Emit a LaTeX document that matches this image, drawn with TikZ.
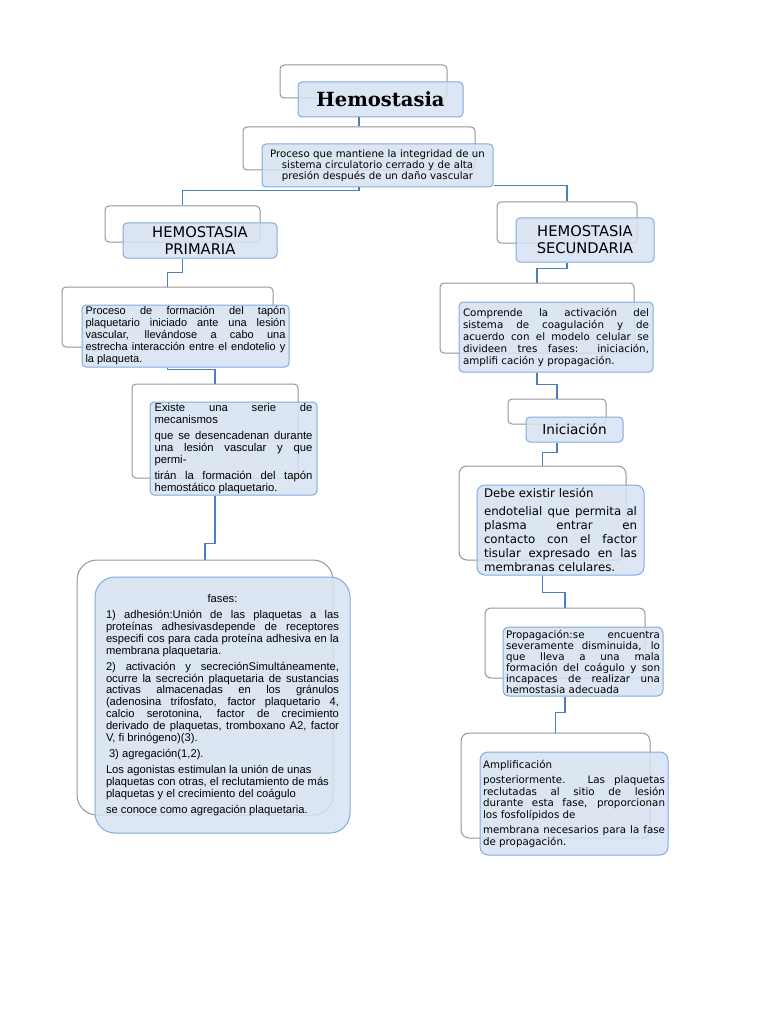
\documentclass[tikz,border=0pt]{standalone}
\usepackage{fontspec}
\setmainfont{Liberation Sans}
\newfontfamily\tahoma{DejaVu Sans}
\newfontfamily\titulo{DejaVu Serif}
\usepackage{xcolor}
\definecolor{celeste}{RGB}{214,226,242}
\definecolor{borde}{RGB}{130,170,222}
\definecolor{azul}{RGB}{74,126,190}
\definecolor{gris}{RGB}{150,150,150}
\newcommand{\tam}[2]{\fontsize{#1}{#2}\selectfont}
\newcommand{\salto}{\par\vspace{4pt}}

\begin{document}
\begin{tikzpicture}[x=1pt,y=-1pt,
	fondo/.style={draw=gris,fill=white,rounded corners=4pt,line width=1pt,inner sep=0pt},
	caja/.style={draw=borde,fill=celeste,fill opacity=0.85,text opacity=1,rounded corners=4pt,line width=1pt,inner sep=0pt,
		execute at begin node={\tolerance=9999\hyphenpenalty=10000}},
	enlace/.style={draw=azul,line width=1.9pt},
	texto/.style={align=justify}]
		\useasboundingbox (0,0) rectangle (768,1024);
		
		% cajas de fondo
		\node[fondo,minimum width=167,minimum height=33] (hemoB) at (363.5,81.5) {};
		\node[fondo,minimum width=232,minimum height=43] (procB) at (359,148.5) {};
		\node[fondo,minimum width=155,minimum height=36] (primB) at (182.5,224) {};
		\node[fondo,minimum width=140,minimum height=41] (secB) at (567,222.5) {};
		\node[fondo,minimum width=211,minimum height=60] (dprimB) at (167.5,317) {};
		\node[fondo,minimum width=194,minimum height=70] (dsecB) at (537,318) {};
		\node[fondo,minimum width=166,minimum height=94] (mecB) at (215,431) {};
		\node[fondo,minimum width=256,minimum height=255,rounded corners=20pt] (fasB) at (205,687.5) {};
		\node[fondo,minimum width=98,minimum height=25] (inicB) at (557,411.5) {};
		\node[fondo,minimum width=167,minimum height=94,rounded corners=8pt] (debeB) at (542.5,513) {};
		\node[fondo,minimum width=160,minimum height=70,rounded corners=6pt] (propB) at (565,643) {};
		\node[fondo,minimum width=189,minimum height=105,rounded corners=8pt] (amplB) at (555.5,785.5) {};
		
		% cajas
		\node[caja,minimum width=165,minimum height=35,font=\titulo\bfseries\tam{19.5}{22}] (hemo) at (380.5,99.5) {Hemostasia};
		\node[caja,minimum width=231,minimum height=43,text width=222,align=center,font=\tahoma\tam{10.2}{10.7}] (proc) at (377.5,165.5)
			{Proceso que mantiene la integridad de un\\ sistema circulatorio cerrado y de alta\\ presión después de un daño vascular};
		\node[caja,minimum width=154,minimum height=35,align=center,font=\tahoma\tam{14.7}{17}] (prim) at (200,240.5) {HEMOSTASIA\\ PRIMARIA};
		\node[caja,minimum width=138,minimum height=44,align=center,font=\tahoma\tam{14.7}{17}] (sec) at (585,240) {HEMOSTASIA\\ SECUNDARIA};
		\node[caja,texto,minimum width=207,minimum height=62,text width=200,font=\tam{11}{12}] (dprim) at (185.5,336)
			{Proceso de formación del tapón\linebreak plaquetario iniciado ante una lesión\linebreak vascular, llevándose a cabo una\linebreak estrecha interacción entre el endotelio y\linebreak la plaqueta.};
		\node[caja,texto,minimum width=194,minimum height=70,text width=186,font=\tahoma\tam{10.3}{12}] (dsec) at (556,337)
			{Comprende la activación del\linebreak sistema de coagulación y de\linebreak acuerdo con el modelo celular se\linebreak divideen tres fases: iniciación,\linebreak amplifi cación y propagación.};
		\node[caja,texto,minimum width=167,minimum height=93,text width=158,font=\tam{11.3}{12}] (mec) at (233.5,448.5)
			{Existe una serie de\linebreak mecanismos\salto que se desencadenan durante\linebreak una lesión vascular y que\linebreak permi-\salto tirán la formación del tapón\linebreak hemostático plaquetario.};
		\node[caja,texto,minimum width=255,minimum height=256,text width=233,rounded corners=20pt,font=\tam{11.2}{11.9}] (fas) at (222.5,705)
			{{\centering fases:\par}\vspace{4pt}
			1) adhesión:Unión de las plaquetas a las\linebreak proteínas adhesivasdepende de receptores\linebreak especifi cos para cada proteína adhesiva en la\linebreak membrana plaquetaria.\salto
			2) activación y secreciónSimultáneamente,\linebreak ocurre la secreción plaquetaria de sustancias\linebreak activas almacenadas en los gránulos\linebreak (adenosina trifosfato, factor plaquetario 4,\linebreak calcio serotonina, factor de crecimiento\linebreak derivado de plaquetas, tromboxano A2, factor\linebreak V, fi brinógeno)(3).\salto
			\hspace*{3pt}3) agregación(1,2).\salto
			Los agonistas estimulan la unión de unas\newline plaquetas con otras, el reclutamiento de más\newline plaquetas y el crecimiento del coágulo\salto
			se conoce como agregación plaquetaria.};
		\node[caja,minimum width=97,minimum height=25,font=\tahoma\tam{13.6}{16}] (inic) at (574.5,429.5) {Iniciación};
		\node[caja,texto,minimum width=167,minimum height=90,text width=153,rounded corners=8pt,font=\tahoma\tam{11.8}{14}] (debe) at (560.5,530)
			{Debe existir lesión\salto endotelial que permita al\linebreak plasma entrar en\linebreak contacto con el factor\linebreak tisular expresado en las\linebreak membranas celulares.};
		\node[caja,texto,minimum width=160,minimum height=69,text width=154,rounded corners=6pt,font=\tahoma\tam{10.3}{11}] (prop) at (583,661.5)
			{Propagación:se encuentra\linebreak severamente disminuida, lo\linebreak que lleva a una mala\linebreak formación del coágulo y son\linebreak incapaces de realizar una\linebreak hemostasia adecuada};
		\node[caja,texto,minimum width=188,minimum height=103,text width=182,rounded corners=8pt,font=\tahoma\tam{10.3}{11.5}] (ampl) at (574,803.5)
			{Amplificación\salto posteriormente. Las plaquetas\linebreak reclutadas al sitio de lesión\linebreak durante esta fase, proporcionan\linebreak los fosfolípidos de\salto membrana necesarios para la fase\linebreak de propagación.};
		
		% enlaces
		\draw[enlace] (hemo.south -| procB.north) -- (procB.north);
		\draw[enlace] (proc.south -| procB.north) -- ++(0,3) -| (primB.north);
		\draw[enlace] ([yshift=2pt]proc.south east) -| (secB.north);
		\draw[enlace] (prim.south -| primB.north) -- ++(0,14) -| (dprimB.north);
		\draw[enlace] (sec.south -| secB.north) -- ++(0,6) -| (dsecB.north);
		\draw[enlace] (dprim.south -| dprimB.north) -- ++(0,2) -| (mecB.north);
		\draw[enlace] (mec.south -| mecB.north) -- ++(0,48) -| (fasB.north);
		\draw[enlace] (dsec.south -| dsecB.north) -- ++(0,12) -| (inicB.north);
		\draw[enlace] (inic.south -| inicB.north) -- ++(0,10) -| (debeB.north);
		\draw[enlace] (debe.south -| debeB.north) -- ++(0,17) -| (propB.north);
		\draw[enlace] (prop.south -| propB.north) -- ++(0,16) -| (amplB.north);
\end{tikzpicture}
\end{document}
